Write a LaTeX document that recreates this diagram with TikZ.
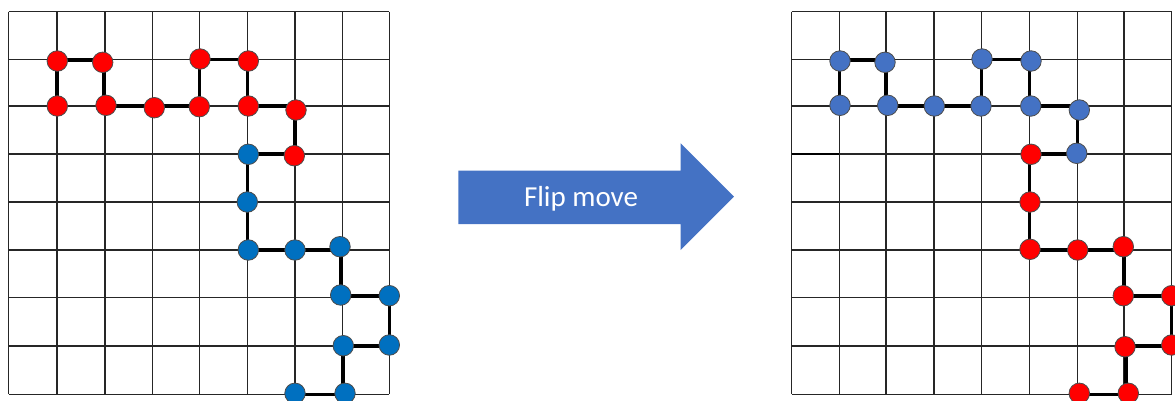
\documentclass[tikz,border=0pt]{standalone}
\usepackage{fontspec}
\setmainfont{Carlito}
\definecolor{lred}{HTML}{FF0000}
\definecolor{lblue}{HTML}{0070C0}
\definecolor{rblue}{HTML}{4472C4}
\definecolor{arrowblue}{HTML}{4472C4}
\tikzset{
  gridline/.style={draw=black!85, line width=1.1pt},
  chain/.style={draw=black, line width=3.2pt},
  bead/.style={circle, draw=black!70, line width=0.8pt, minimum size=20.5pt, inner sep=0pt},
  redbead/.style={bead, fill=lred},
  lbluebead/.style={bead, fill=lblue},
  rbluebead/.style={bead, fill=rblue},
}
\begin{document}
\begin{tikzpicture}[x=1pt,y=-1pt]
\useasboundingbox (0,0) rectangle (1175,400);
% left grid
\foreach \x in {8.7,57,105,152.7,199.3,247.3,295,342.7,389.3}
  \draw[gridline] (\x,11.7) -- (\x,394.3);
\foreach \y in {11.7,59.3,106,154,202,250,297.7,346,394.3}
  \draw[gridline] (8.7,\y) -- (389.3,\y);
% right grid
\foreach \x in {791.7,839.3,886,934,981.7,1029.3,1077.3,1124,1171.7}
  \draw[gridline] (\x,11.7) -- (\x,394.3);
\foreach \y in {11.7,59.3,106,154,202,250,297.7,346,394.3}
  \draw[gridline] (791.7,\y) -- (1171.7,\y);
\draw[line width=2pt] (791.7,154) -- (839.3,154);
% left chain: lattice points the bonds run along, beads slightly off
\foreach \n/\x/\y in {
  1/57/106, 2/57/60, 3/104/60, 4/104/106,
  5/152.7/106, 6/199.3/106, 7/199.3/59.3, 8/247.3/59.3,
  9/247.3/106, 10/295/106, 11/295/154,
  12/247.3/154, 13/247.3/202, 14/247.3/250,
  15/295/250, 16/341/250, 17/341/296,
  18/389.3/296, 19/389.3/346, 20/343/346,
  21/343/394.3, 22/295/394.3}
  \coordinate (LC\n) at (\x,\y);
\foreach \a/\b in {1/2,2/3,3/4,4/5,5/6,6/7,7/8,8/9,9/10,10/11,11/12,12/13,13/14,14/15,15/16,16/17,17/18,18/19,19/20,20/21,21/22}
  \draw[chain] (LC\a) -- (LC\b);
\foreach \n/\s/\x/\y in {
  1/redbead/57.3/106, 2/redbead/57.3/61, 3/redbead/102.7/62.3, 4/redbead/106/105.3,
  5/redbead/154.3/107.7, 6/redbead/199.3/106.7, 7/redbead/200/59, 8/redbead/248.3/61,
  9/redbead/248.3/106, 10/redbead/296/110, 11/redbead/294.3/155.7,
  12/lbluebead/248.3/154.3, 13/lbluebead/247.3/202, 14/lbluebead/248.3/250,
  15/lbluebead/295/250, 16/lbluebead/340/246.7, 17/lbluebead/340.7/295,
  18/lbluebead/389.3/295.7, 19/lbluebead/389.3/345, 20/lbluebead/343.3/345.7,
  21/lbluebead/345/393.3, 22/lbluebead/295/393.3}
  \node[\s] (L\n) at (\x,\y) {};
% right chain
\foreach \n/\x/\y in {
  1/839.3/106, 2/839.3/60, 3/886/60, 4/886/106,
  5/934/106, 6/981.7/106, 7/981.7/59.3, 8/1029.3/59.3,
  9/1029.3/106, 10/1077.3/106, 11/1077.3/154,
  12/1029.3/154, 13/1029.3/202, 14/1029.3/250,
  15/1077.3/250, 16/1124/250, 17/1124/296,
  18/1171.7/296, 19/1171.7/346, 20/1126/346,
  21/1126/394.3, 22/1079/394.3}
  \coordinate (RC\n) at (\x,\y);
\foreach \a/\b in {1/2,2/3,3/4,4/5,5/6,6/7,7/8,8/9,9/10,10/11,11/12,12/13,13/14,14/15,15/16,16/17,17/18,18/19,19/20,20/21,21/22}
  \draw[chain] (RC\a) -- (RC\b);
\foreach \n/\s/\x/\y in {
  1/rbluebead/840/105.3, 2/rbluebead/840/61, 3/rbluebead/885/62.3, 4/rbluebead/887.7/105.3,
  5/rbluebead/934.3/106, 6/rbluebead/981/106, 7/rbluebead/982/59, 8/rbluebead/1031/61,
  9/rbluebead/1030.7/106, 10/rbluebead/1079.3/110, 11/rbluebead/1076.7/153.3,
  12/redbead/1031/154.3, 13/redbead/1030/202, 14/redbead/1030/249.3,
  15/redbead/1077.7/250, 16/redbead/1123.3/246.7, 17/redbead/1123.3/295.7,
  18/redbead/1171.7/295.7, 19/redbead/1171.7/345, 20/redbead/1125/346.7,
  21/redbead/1128.3/393.3, 22/redbead/1079.3/393.3}
  \node[\s] (R\n) at (\x,\y) {};
% arrow
\fill[arrowblue] (458.3,170.7) -- (680.7,170.7) -- (680.7,143.3) -- (734,196.7)
  -- (680.7,250) -- (680.7,224) -- (458.3,224) -- cycle;
\node[text=white, font=\fontsize{29}{32}\selectfont, anchor=base] (lbl) at (581,206) {Flip move};
\end{tikzpicture}
\end{document}
